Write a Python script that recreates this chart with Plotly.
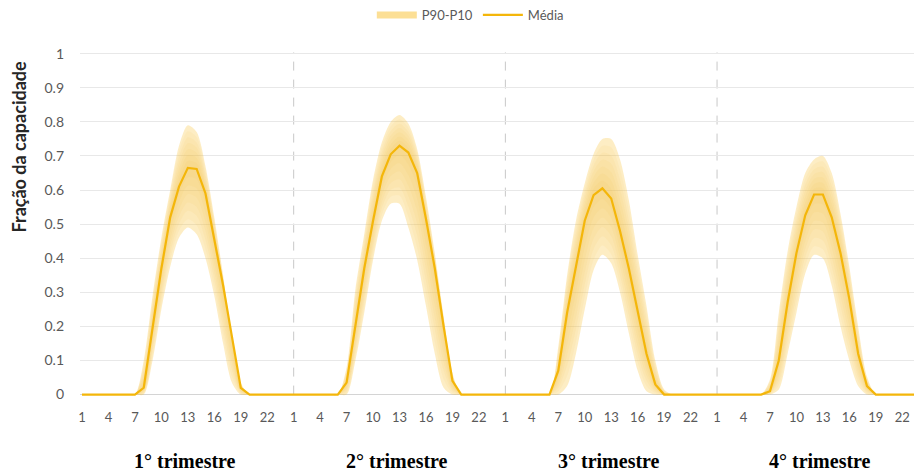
import plotly.graph_objects as go

# ---------------- data ----------------
hours = list(range(1, 25))
tick_hours = [1, 4, 7, 10, 13, 16, 19, 22]
quarters = ["1° trimestre", "2° trimestre", "3° trimestre", "4° trimestre"]

q1_mean = [0]*7 + [0.02, 0.20, 0.37, 0.52, 0.61, 0.665, 0.662, 0.59, 0.46, 0.32, 0.17, 0.02] + [0]*5
q1_p90  = [0]*7 + [0.10, 0.29, 0.46, 0.60, 0.73, 0.79, 0.77, 0.67, 0.52, 0.35, 0.17, 0.035] + [0]*5
q1_p10  = [0]*8 + [0.10, 0.25, 0.375, 0.46, 0.49, 0.47, 0.40, 0.29, 0.15, 0.035] + [0]*6

q2_mean = [0]*6 + [0.035, 0.20, 0.37, 0.51, 0.64, 0.705, 0.73, 0.71, 0.65, 0.515, 0.37, 0.20, 0.04] + [0]*5
q2_p90  = [0]*6 + [0.08, 0.31, 0.47, 0.63, 0.74, 0.80, 0.82, 0.795, 0.72, 0.58, 0.415, 0.23, 0.064] + [0]*5
q2_p10  = [0]*7 + [0.10, 0.24, 0.395, 0.51, 0.56, 0.56, 0.49, 0.395, 0.26, 0.12, 0.02] + [0]*6

q3_mean = [0]*6 + [0.07, 0.24, 0.375, 0.51, 0.585, 0.605, 0.575, 0.48, 0.37, 0.24, 0.12, 0.03] + [0]*6
q3_p90  = [0]*6 + [0.14, 0.35, 0.51, 0.62, 0.706, 0.75, 0.75, 0.69, 0.57, 0.41, 0.26, 0.10, 0.015] + [0]*5
q3_p10  = [0]*7 + [0.025, 0.12, 0.25, 0.365, 0.41, 0.385, 0.30, 0.18, 0.07, 0.01] + [0]*7

q4_mean = [0]*6 + [0.01, 0.10, 0.27, 0.415, 0.526, 0.587, 0.587, 0.52, 0.415, 0.28, 0.12, 0.025] + [0]*6
q4_p90  = [0]*6 + [0.044, 0.24, 0.42, 0.55, 0.65, 0.69, 0.70, 0.65, 0.53, 0.375, 0.20, 0.053] + [0]*6
q4_p10  = [0]*7 + [0.015, 0.12, 0.24, 0.355, 0.41, 0.40, 0.32, 0.20, 0.10, 0.025] + [0]*7

# ---------------- assemble ----------------
mean = q1_mean + q2_mean + q3_mean + q4_mean
p90 = q1_p90 + q2_p90 + q3_p90 + q4_p90
p10 = q1_p10 + q2_p10 + q3_p10 + q4_p10
x = [qi * len(hours) + (h - 1) for qi in range(len(quarters)) for h in hours]

LINE = "#F4B60A"
BAND_LEG = "#FCDF95"

fig = go.Figure()

# legend entry for band (first)
fig.add_trace(go.Scatter(x=[None], y=[None], mode="lines", line=dict(color=BAND_LEG, width=7),
                         name="P90-P10"))

# gradient-like band: nested layers between P10 and P90
layers = [(1.0, 0.30), (0.86, 0.08), (0.72, 0.08), (0.58, 0.08), (0.44, 0.08), (0.30, 0.08), (0.16, 0.08)]
for a, alpha in layers:
    up = [m + a * (u - m) for m, u in zip(mean, p90)]
    lo = [m - a * (m - l) for m, l in zip(mean, p10)]
    fig.add_trace(go.Scatter(x=x, y=lo, mode="lines", line=dict(width=0, shape="spline", smoothing=0.8),
                             showlegend=False, hoverinfo="skip"))
    fig.add_trace(go.Scatter(x=x, y=up, mode="lines", line=dict(width=0, shape="spline", smoothing=0.8),
                             fill="tonexty", fillcolor=f"rgba(248,196,60,{alpha})", showlegend=False,
                             hoverinfo="skip"))

fig.add_trace(go.Scatter(x=x, y=mean, mode="lines", line=dict(color=LINE, width=2.2),
                         name="Média"))

# quarter separators
for qi in range(1, len(quarters)):
    fig.add_shape(type="line", xref="x", yref="y", x0=qi * 24, x1=qi * 24, y0=0, y1=1.01,
                  line=dict(color="#C8C8C8", width=1, dash="dash"), layer="below")

# quarter labels
for qi, q in enumerate(quarters):
    fig.add_annotation(x=qi * 24 + 11.7, y=-0.183, xref="x", yref="paper", text=q, showarrow=False,
                       font=dict(family="Liberation Serif", size=20, color="#000000", weight="bold"),
                       xanchor="center", yanchor="middle")

# y title
fig.add_annotation(x=-0.072, y=0.727, xref="paper", yref="paper", text="<b>Fração da capacidade</b>",
                   showarrow=False, textangle=-90, xanchor="center", yanchor="middle",
                   font=dict(family="Lato", size=18, color="#262626"))

tickvals = [qi * 24 + (h - 1) for qi in range(len(quarters)) for h in tick_hours]
ticktext = [str(h) for qi in range(len(quarters)) for h in tick_hours]

fig.update_layout(
    width=914, height=474,
    margin=dict(l=80, r=0, t=51, b=76),
    paper_bgcolor="white", plot_bgcolor="white",
    font=dict(family="Lato", color="#595959"),
    showlegend=True,
    legend=dict(orientation="h", x=0.468, y=1.108, xanchor="center", yanchor="middle",
                traceorder="normal", font=dict(size=13, color="#595959"), itemwidth=40),
    xaxis=dict(range=[-0.227, 94.33], tickvals=tickvals, ticktext=ticktext, showgrid=False,
               zeroline=False, showline=False, ticks="", tickfont=dict(size=13, color="#595959"),
               ticklabelstandoff=10),
    yaxis=dict(range=[-0.01, 1.005], tickmode="linear", tick0=0, dtick=0.1, showgrid=True,
               gridcolor="#E8E8E8", gridwidth=1, zeroline=True, zerolinecolor="#D4D4D4",
               zerolinewidth=1, showline=False, ticks="", tickfont=dict(size=14, color="#595959"),
               ticklabelstandoff=15),
)

fig.write_html("out.html")
